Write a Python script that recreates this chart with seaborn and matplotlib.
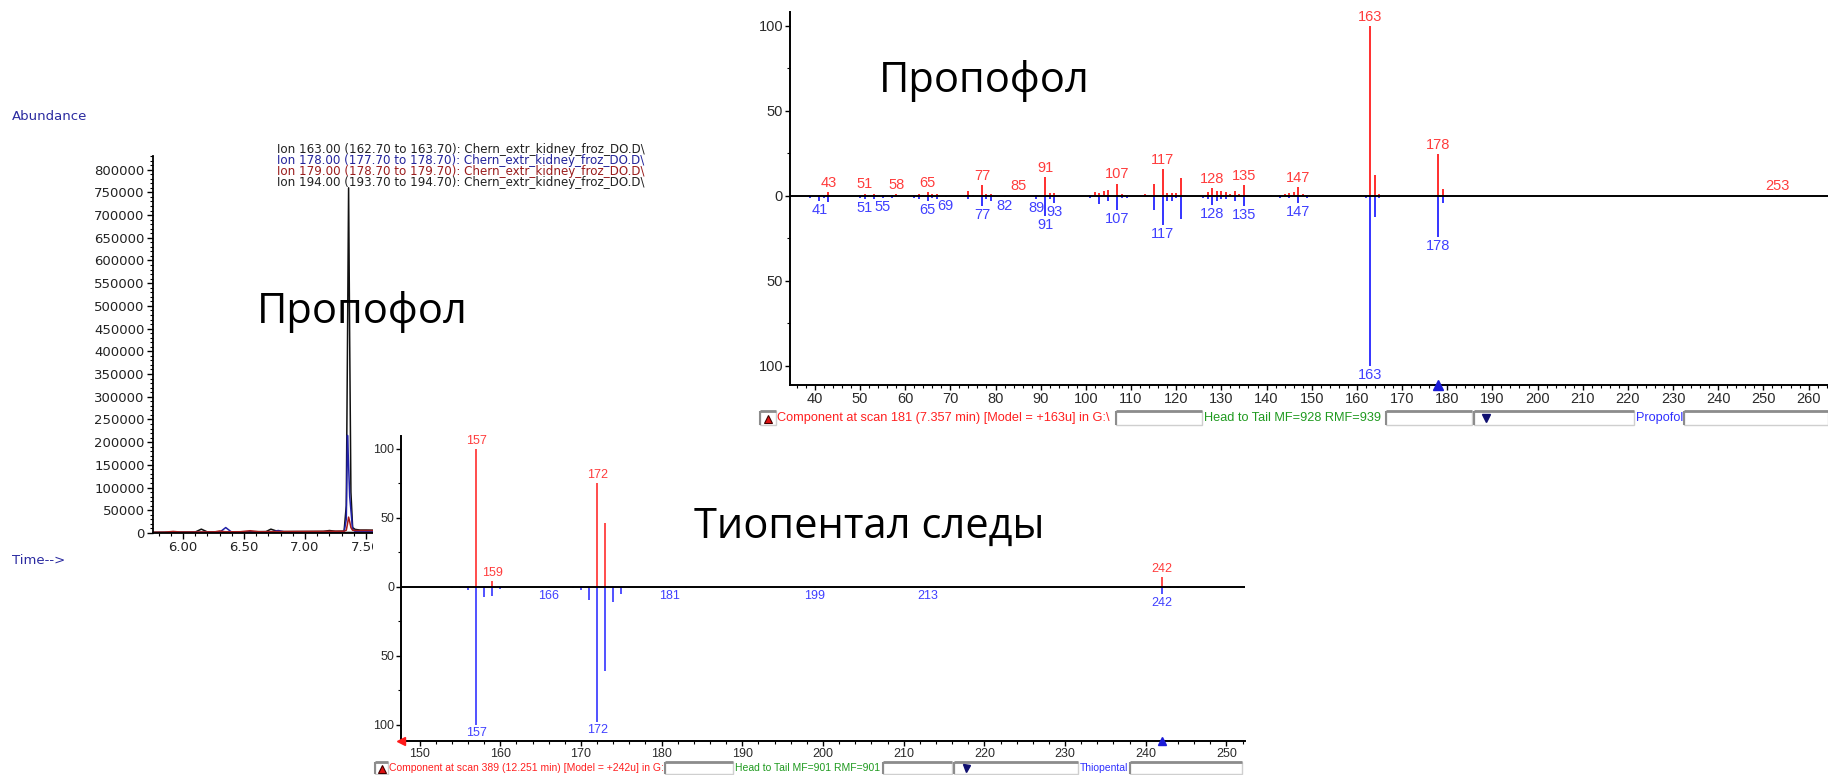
import matplotlib
matplotlib.use("Agg")
import matplotlib.pyplot as plt
import seaborn as sns
from matplotlib import font_manager as fm
from matplotlib.patches import Rectangle
from matplotlib.ticker import MultipleLocator, FixedLocator, FuncFormatter

# ---------------- data ----------------
# extracted-ion chromatogram (time in min, abundance)
scan_time_min = [5.76, 5.85, 5.92, 5.98, 6.05, 6.10, 6.15, 6.20, 6.26, 6.30, 6.35, 6.40,
                 6.47, 6.55, 6.62, 6.68, 6.72, 6.78, 6.84, 6.92, 7.00, 7.08, 7.15, 7.20,
                 7.25, 7.32, 7.338, 7.348, 7.357, 7.366, 7.376, 7.39, 7.41, 7.45, 7.50, 7.56]
ion163 = [1500, 1700, 1800, 1900, 2000, 2100, 8500, 2300, 2400, 2500, 2600, 2600,
          2700, 2800, 2900, 3000, 8500, 3100, 3100, 3200, 3300, 3400, 3500, 5500,
          3700, 4000, 60000, 420000, 760000, 420000, 90000, 12000, 8000, 6500, 6500, 6200]
ion178 = [800, 900, 1000, 1000, 1100, 1200, 1300, 1300, 1400, 1500, 12000, 1600,
          1600, 1700, 1800, 1800, 1900, 5500, 1900, 2000, 2000, 2100, 2200, 2200,
          2300, 2400, 30000, 215000, 150000, 80000, 50000, 8000, 3500, 3000, 3000, 2800]
ion179 = [1500, 1800, 3500, 2000, 2100, 2200, 2300, 2400, 2500, 4500, 2600, 2700,
          2800, 5000, 2900, 3000, 3100, 3200, 3300, 3400, 3500, 3600, 3700, 3800,
          3900, 4000, 6000, 20000, 35000, 25000, 12000, 6000, 5500, 5500, 5500, 5500]
ion194 = [500, 500, 600, 600, 600, 700, 700, 700, 700, 800, 800, 800,
          800, 900, 900, 900, 900, 1000, 1000, 1000, 1000, 1100, 1100, 1100,
          1100, 1200, 1200, 1300, 1400, 1300, 1200, 1200, 1200, 1200, 1200, 1200]
ion_legend = [
    ("Ion 163.00 (162.70 to 163.70): Chern_extr_kidney_froz_DO.D\\", "#222222"),
    ("Ion 178.00 (177.70 to 178.70): Chern_extr_kidney_froz_DO.D\\", "#23239a"),
    ("Ion 179.00 (178.70 to 179.70): Chern_extr_kidney_froz_DO.D\\", "#9a1c1c"),
    ("Ion 194.00 (193.70 to 194.70): Chern_extr_kidney_froz_DO.D\\", "#222222"),
]

# propofol head-to-tail spectrum (sample up, library down, relative %)
propofol_sample_mz = [41, 43, 50, 51, 53, 55, 57, 58, 62, 63, 64, 65, 66, 67, 74, 75, 77, 78, 79, 85,
                      89, 91, 92, 93, 94, 101, 102, 103, 104, 105, 107, 108, 109, 113, 115, 117, 118,
                      119, 120, 121, 122, 127, 128, 129, 130, 131, 132, 133, 134, 135, 136, 141, 143,
                      144, 145, 146, 147, 148, 149, 161, 163, 164, 165, 178, 179, 180, 253]
propofol_sample_int = [0.8, 2.5, 0.6, 1.4, 1.2, 0.6, 0.8, 1.0, 0.6, 1.2, 0.6, 2.5, 1.0, 1.2, 3.0, 0.8,
                       6.3, 1.0, 1.0, 0.8, 0.8, 11.2, 1.8, 1.6, 0.6, 0.8, 2.4, 1.5, 3.0, 3.5, 7.3, 1.0,
                       0.6, 1.4, 7.3, 16.0, 2.0, 2.0, 1.5, 10.8, 0.6, 2.4, 4.9, 3.0, 3.0, 2.5, 1.0, 2.7,
                       1.0, 6.5, 0.8, 0.6, 0.8, 1.0, 2.0, 2.6, 5.4, 1.2, 0.8, 0.8, 100.0, 12.6, 1.0,
                       24.7, 4.3, 0.8, 0.8]
propofol_library_mz = [39, 41, 42, 43, 50, 51, 53, 55, 57, 58, 62, 63, 65, 66, 67, 69, 74, 77, 78, 79,
                       82, 89, 91, 92, 93, 94, 101, 103, 105, 107, 108, 109, 115, 117, 118, 119, 120,
                       121, 126, 127, 128, 129, 130, 131, 133, 135, 143, 145, 147, 149, 162, 163, 164,
                       165, 178, 179, 180]
propofol_library_int = [1.0, 3.0, 1.0, 3.5, 1.0, 2.0, 2.0, 1.2, 1.0, 0.8, 1.0, 1.5, 3.0, 1.0, 2.0, 0.8,
                        2.0, 6.0, 1.5, 3.0, 0.6, 2.0, 11.8, 1.5, 4.3, 0.8, 1.0, 4.5, 3.0, 8.0, 1.0, 1.0,
                        8.2, 17.3, 3.0, 3.0, 1.0, 13.3, 1.0, 1.5, 5.5, 3.0, 2.0, 2.0, 3.0, 6.0, 1.0, 1.0,
                        4.3, 1.0, 1.0, 100.0, 12.6, 1.0, 24.0, 3.9, 0.8]
propofol_sample_labels = [43, 51, 58, 65, 77, 85, 91, 107, 117, 128, 135, 147, 163, 178, 253]
propofol_library_labels = [41, 51, 55, 65, 69, 77, 82, 89, 91, 93, 107, 117, 128, 135, 147, 163, 178]

# thiopental head-to-tail spectrum
thiopental_sample_mz = [157, 159, 172, 173, 242]
thiopental_sample_int = [100.0, 4.3, 75.0, 46.0, 7.0]
thiopental_library_mz = [154, 155, 156, 157, 158, 159, 160, 166, 169, 170, 171, 172, 173, 174, 175,
                         176, 181, 183, 199, 213, 214, 242, 243, 244]
thiopental_library_int = [1.0, 1.0, 2.0, 100.0, 7.7, 6.5, 1.5, 0.5, 1.0, 2.0, 9.6, 98.0, 61.0, 11.0,
                          5.0, 1.0, 1.0, 1.0, 0.5, 1.0, 0.8, 5.5, 1.0, 0.8]
thiopental_sample_labels = [157, 159, 172, 242]
thiopental_library_labels = [157, 166, 172, 181, 199, 213, 242]

# ---------------- styling ----------------
sns.set_theme(style="white")
plt.rcParams["font.family"] = ["DejaVu Sans"]
installed = {f.name for f in fm.fontManager.ttflist}
NARROW = "Liberation Sans Narrow" if "Liberation Sans Narrow" in installed else "Liberation Sans"
SLIDE = "Open Sans" if "Open Sans" in installed else "DejaVu Sans"

RED, BLUE = "#ff2e2e", "#3434ff"
RED_T, BLUE_T = "#ff3c3c", "#4040ff"
NAVY = "#2a2aa0"

W, H = 1828, 775
fig = plt.figure(figsize=(W / 100, H / 100), dpi=100)
fig.patch.set_facecolor("white")


def px_axes(x0, y0, x1, y1, z):
    return fig.add_axes([x0 / W, 1 - y1 / H, (x1 - x0) / W, (y1 - y0) / H], zorder=z)


def overlay(z):
    ov = fig.add_axes([0, 0, 1, 1], zorder=z)
    ov.set_xlim(0, W)
    ov.set_ylim(H, 0)
    ov.axis("off")
    return ov


# ---------------- chromatogram ----------------
ax_c = px_axes(153, 156, 373, 533, 1)
for vals, col in [(ion194, "#333333"), (ion163, "#111111"), (ion178, "#2020a8"), (ion179, "#a51a1a")]:
    sns.lineplot(x=scan_time_min, y=vals, color=col, lw=1.1, ax=ax_c, sort=False)
ax_c.set_xlim(5.754, 7.557)
ax_c.set_ylim(0, 830000)
ax_c.set_facecolor("white")
for s in ["top", "right"]:
    ax_c.spines[s].set_visible(False)
for s in ["left", "bottom"]:
    ax_c.spines[s].set_color("black")
    ax_c.spines[s].set_linewidth(1.3)
ax_c.yaxis.set_major_locator(MultipleLocator(50000))
ax_c.yaxis.set_minor_locator(MultipleLocator(10000))
ax_c.xaxis.set_major_locator(MultipleLocator(0.5))
ax_c.xaxis.set_minor_locator(MultipleLocator(0.1))
ax_c.yaxis.set_major_formatter(FuncFormatter(lambda v, p: f"{v:.0f}"))
ax_c.xaxis.set_major_formatter(FuncFormatter(lambda v, p: f"{v:.2f}"))
ax_c.tick_params(which="major", direction="out", length=4, width=1, color="black",
                 labelsize=9.5, labelcolor="#222222", left=True, bottom=True, pad=2)
ax_c.tick_params(which="minor", direction="out", length=2, width=0.8, color="black", left=True, bottom=True)
ax_c.set_xlabel("")
ax_c.set_ylabel("")

ov_low = overlay(1.5)
ov_low.text(12, 117, "Abundance", color=NAVY, fontsize=9.5, va="center", ha="left")
ov_low.text(12, 561, "Time-->", color=NAVY, fontsize=9.5, va="center", ha="left")
for i, (txt, col) in enumerate(ion_legend):
    ov_low.text(277, 150 + i * 10.8, txt, color=col, fontsize=8.6, va="center", ha="left")
ov_low.text(257, 323, "Пропофол", fontsize=30, family=SLIDE, color="black", va="baseline", ha="left")

# white panels under the spectrum windows
ov_cover = overlay(2)
ov_cover.add_patch(Rectangle((757, 0), W - 757, 432, facecolor="white", edgecolor="none"))
ov_cover.add_patch(Rectangle((373, 434), 1248 - 373, H - 434, facecolor="white", edgecolor="none"))


# ---------------- head-to-tail spectra ----------------
def spectrum(ax, s_mz, s_int, l_mz, l_int, s_lab, l_lab, xlim, ylim, fs, lw):
    ax.set_facecolor("white")
    ax.vlines(s_mz, 0, s_int, colors=RED, lw=lw)
    ax.vlines(l_mz, 0, [-v for v in l_int], colors=BLUE, lw=lw)
    ax.axhline(0, color="black", lw=1.4, zorder=3)
    s_map = dict(zip(s_mz, s_int))
    l_map = dict(zip(l_mz, l_int))
    for m in s_lab:
        ax.annotate(str(m), (m, s_map[m]), xytext=(0, 1.5), textcoords="offset points",
                    ha="center", va="bottom", color=RED_T, fontsize=fs, family=NARROW)
    for m in l_lab:
        ax.annotate(str(m), (m, -l_map[m]), xytext=(0, -1.5), textcoords="offset points",
                    ha="center", va="top", color=BLUE_T, fontsize=fs, family=NARROW)
    ax.set_xlim(*xlim)
    ax.set_ylim(*ylim)
    for s in ["top", "right"]:
        ax.spines[s].set_visible(False)
    for s in ["left", "bottom"]:
        ax.spines[s].set_color("black")
        ax.spines[s].set_linewidth(1.4)
    ax.xaxis.set_major_locator(MultipleLocator(10))
    ax.xaxis.set_minor_locator(MultipleLocator(2))
    ax.yaxis.set_major_locator(FixedLocator([-100, -50, 0, 50, 100]))
    ax.yaxis.set_minor_locator(FixedLocator([-75, -25, 25, 75]))
    ax.yaxis.set_major_formatter(FuncFormatter(lambda v, p: f"{abs(v):.0f}"))
    ax.tick_params(which="major", direction="out", length=3.5, width=1, color="black",
                   labelsize=fs, labelcolor="#2a2a2a", left=True, bottom=True, pad=1.5)
    ax.tick_params(which="minor", direction="out", length=2, width=0.8, color="black",
                   left=True, bottom=True)
    for lab in ax.get_xticklabels() + ax.get_yticklabels():
        lab.set_family(NARROW)
    ax.grid(False)


ax_p = px_axes(790, 12, 1828, 385, 3)
spectrum(ax_p, propofol_sample_mz, propofol_sample_int, propofol_library_mz, propofol_library_int,
         propofol_sample_labels, propofol_library_labels, (34.5, 264.3), (-111.2, 108.2), 10.5, 1.4)
ax_p.plot([178], [-111.2], marker="^", color="#1c1cd8", ms=7, clip_on=False, zorder=5)

ax_t = px_axes(401, 436, 1245, 741, 3)
spectrum(ax_t, thiopental_sample_mz, thiopental_sample_int, thiopental_library_mz, thiopental_library_int,
         thiopental_sample_labels, thiopental_library_labels, (147.7, 252.3), (-111.6, 109.2), 9, 1.2)
ax_t.plot([242], [-111.6], marker="^", color="#1c1cd8", ms=6, clip_on=False, zorder=5)
ax_t.plot([147.7], [-111.6], marker="<", color="#ff1a1a", ms=6, clip_on=False, zorder=5)

# ---------------- status bars and slide captions ----------------
ov_top = overlay(10)


def field(x0, x1, yc, h):
    ov_top.add_patch(Rectangle((x0, yc - h / 2), x1 - x0, h, facecolor="white", edgecolor="#cfcfcf", lw=1))
    ov_top.plot([x0, x1], [yc - h / 2, yc - h / 2], color="#8c8c8c", lw=2, solid_capstyle="butt")
    ov_top.plot([x0, x0], [yc - h / 2, yc + h / 2], color="#8c8c8c", lw=1.5, solid_capstyle="butt")


def status_bar(yc, h, fs, xs, texts):
    icon0, icon1, t_red, f1, t_green, f2, d0, d1, t_blue, f3 = xs
    field(icon0, icon1, yc, h)
    ov_top.plot([(icon0 + icon1) / 2], [yc + 1], marker="^", ms=h * 0.45, color="#e01010",
                mec="#400000", mew=0.8)
    ov_top.text(t_red, yc, texts[0], color="#ff2020", fontsize=fs, family=NARROW, va="center", ha="left")
    field(f1[0], f1[1], yc, h)
    ov_top.text(t_green, yc, texts[1], color="#1f9a1f", fontsize=fs, family=NARROW, va="center", ha="left")
    field(f2[0], f2[1], yc, h)
    field(d0, d1, yc, h)
    ov_top.plot([d0 + 12], [yc], marker="v", ms=h * 0.42, color="#101070")
    ov_top.text(t_blue, yc, texts[2], color="#3030ff", fontsize=fs, family=NARROW, va="center", ha="left")
    field(f3[0], f3[1], yc, h)


status_bar(418, 14, 9.2,
           (760, 776, 777, (1116, 1202), 1204, (1386, 1472), 1474, 1634, 1636, (1684, 1828)),
           ("Component at scan 181 (7.357 min) [Model = +163u] in G:\\",
            "Head to Tail MF=928 RMF=939", "Propofol"))
status_bar(768, 12, 7.5,
           (375, 388, 389, (665, 733), 735, (883, 952), 954, 1078, 1080, (1130, 1242)),
           ("Component at scan 389 (12.251 min) [Model = +242u] in G:",
            "Head to Tail MF=901 RMF=901", "Thiopental"))

ov_top.text(879, 92, "Пропофол", fontsize=30, family=SLIDE, color="black", va="baseline", ha="left")
ov_top.text(694, 538, "Тиопентал следы", fontsize=30, family=SLIDE, color="black", va="baseline", ha="left")

fig.savefig("out.png", dpi=100, facecolor="white")
